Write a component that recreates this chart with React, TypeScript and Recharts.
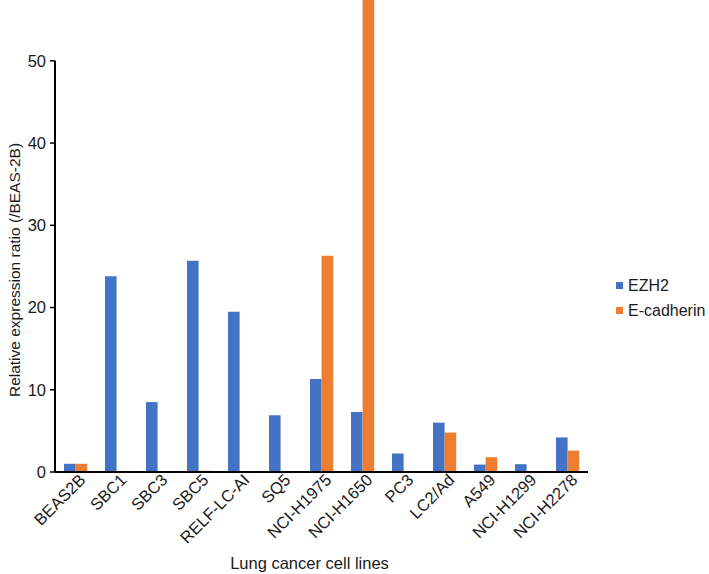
import React from 'react';
import { BarChart, Bar, XAxis, YAxis, ReferenceLine, Label } from 'recharts';

const cellLines = [
  'BEAS2B', 'SBC1', 'SBC3', 'SBC5', 'RELF-LC-AI', 'SQ5', 'NCI-H1975',
  'NCI-H1650', 'PC3', 'LC2/Ad', 'A549', 'NCI-H1299', 'NCI-H2278',
];
const ezh2 = [1.0, 23.8, 8.5, 25.7, 19.5, 6.9, 11.3, 7.3, 2.25, 6.0, 0.9, 0.95, 4.2];
const eCadherin = [1.0, 0, 0, 0.15, 0, 0, 26.3, 57.4, 0.1, 4.8, 1.8, 0, 2.6];
const yTicks = [0, 10, 20, 30, 40, 50];
const seriesNames = ['EZH2', 'E-cadherin'];
const COLORS = ['#4472C4', '#ED7D31'];

const data = cellLines.map((name, i) => ({ name, ezh2: ezh2[i], ecad: eCadherin[i] }));

const FONT = '"Liberation Sans", Arial, sans-serif';
const TEXT = '#1a1a1a';

const CellTick = (props: any) => {
  const { x, y, payload } = props;
  return (
    <g transform={`translate(${x + 11},${y + 7})`}>
      <text x={0} y={0} textAnchor="end" transform="rotate(-45)" fontSize={16.5} fill={TEXT} fontFamily={FONT}>
        {payload.value}
      </text>
    </g>
  );
};

const YTitle = (props: any) => {
  const vb = props.viewBox;
  const cx = vb.x + 14;
  const cy = vb.y + vb.height / 2 + 34;
  return (
    <text x={cx} y={cy} textAnchor="middle" dominantBaseline="central" transform={`rotate(-90, ${cx}, ${cy})`}
      fontSize={15.5} fill={TEXT} fontFamily={FONT}>
      Relative expression ratio (/BEAS-2B)
    </text>
  );
};

const App: React.FC = () => {
  return (
    <div style={{ position: 'absolute', left: 0, top: 0, width: 709, height: 574, fontFamily: FONT }}>
      <BarChart width={709} height={574} data={data} margin={{ top: 0, right: 121, bottom: 0, left: 0 }}
        barGap={0} barSize={11.6}>
        <XAxis dataKey="name" height={102} tickSize={0} tickLine={false} interval={0}
          axisLine={{ stroke: '#000', strokeWidth: 2 }} tick={<CellTick />}>
          <Label value="Lung cancer cell lines" position="insideBottom" offset={5} dx={-12}
            fontSize={16.5} fill={TEXT} fontFamily={FONT} />
        </XAxis>
        <YAxis width={55} domain={[0, 57.4]} ticks={yTicks} axisLine={false} tickSize={5} tickMargin={4}
          tickLine={{ stroke: '#000', strokeWidth: 1.5 }} tick={{ fontSize: 16.5, fill: TEXT, fontFamily: FONT }}>
          <Label content={<YTitle />} />
        </YAxis>
        <ReferenceLine segment={[{ x: cellLines[0], y: 0 }, { x: cellLines[0], y: 50 }]} position="start"
          stroke="#000" strokeWidth={2} />
        <Bar dataKey="ezh2" name={seriesNames[0]} fill={COLORS[0]} isAnimationActive={false} />
        <Bar dataKey="ecad" name={seriesNames[1]} fill={COLORS[1]} isAnimationActive={false} />
      </BarChart>
      <div style={{ position: 'absolute', left: 616, top: 273, fontSize: 16, color: TEXT, lineHeight: '25px' }}>
        {seriesNames.map((n, i) => (
          <div key={n} style={{ display: 'flex', alignItems: 'center' }}>
            <span style={{ display: 'inline-block', width: 7, height: 7, background: COLORS[i], marginRight: 5 }} />
            {n}
          </div>
        ))}
      </div>
    </div>
  );
};

export default App;
